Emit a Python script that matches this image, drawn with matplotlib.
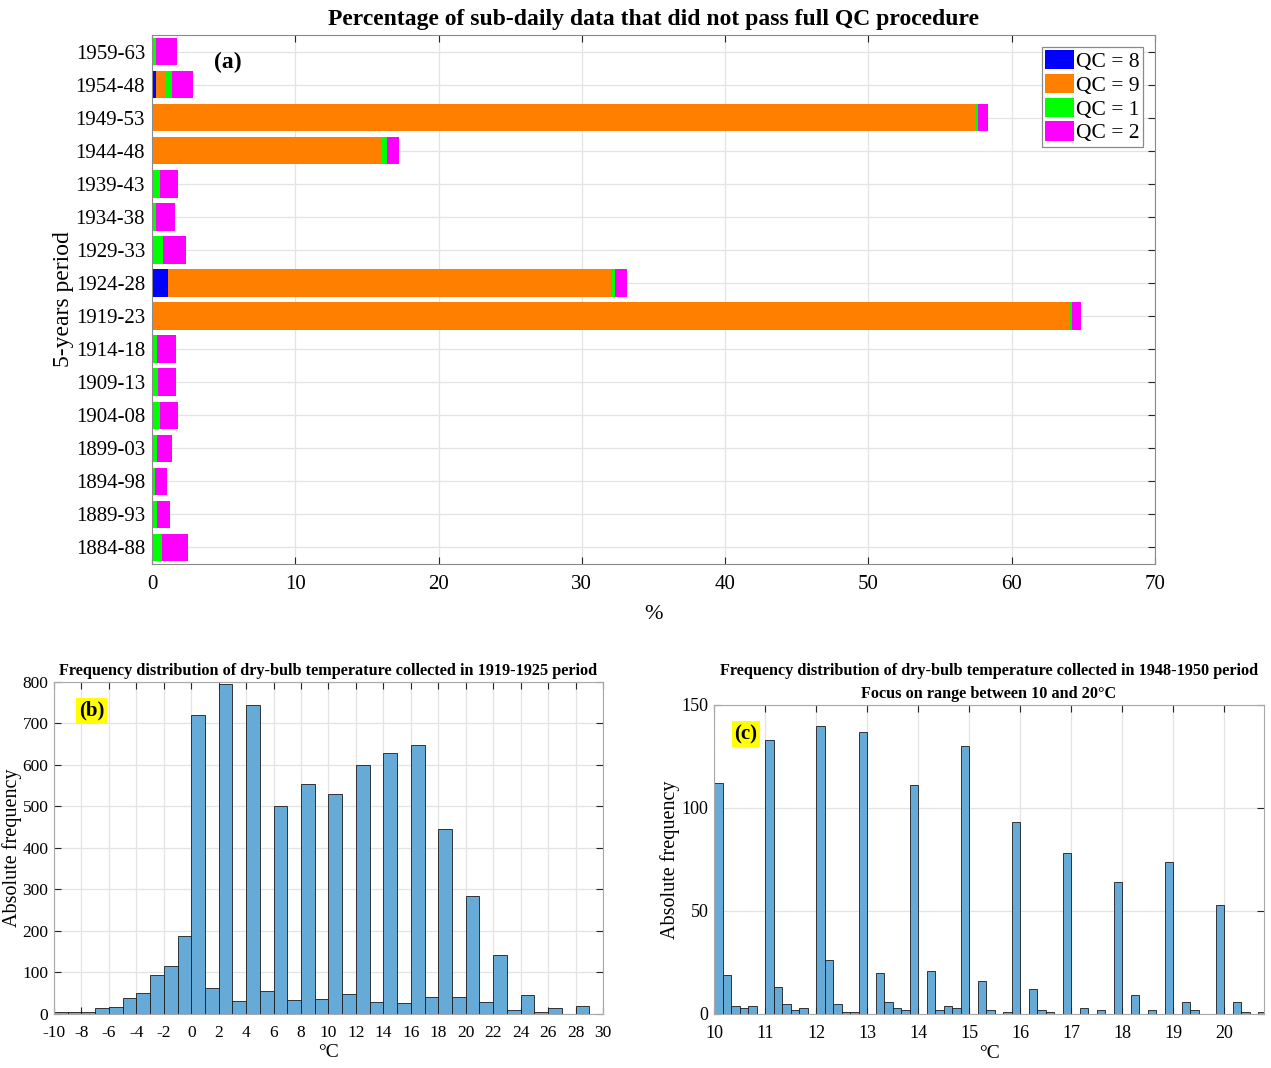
import numpy as np
import matplotlib
matplotlib.use("Agg")
import matplotlib.pyplot as plt
from matplotlib.patches import Patch

plt.rcParams['font.family'] = ['Liberation Serif', 'DejaVu Serif']
plt.rcParams['axes.unicode_minus'] = False

# ---- panel (a): stacked % of data failing QC, top -> bottom
periods = ['1959-63', '1954-48', '1949-53', '1944-48', '1939-43', '1934-38',
           '1929-33', '1924-28', '1919-23', '1914-18', '1909-13', '1904-08',
           '1899-03', '1894-98', '1889-93', '1884-88']
qc8 = [0.05, 0.28, 0.0, 0.0, 0.0, 0.03, 0.0, 1.13, 0.05, 0.0, 0.0, 0.0, 0.07, 0.0, 0.0, 0.0]
qc9 = [0.10, 0.65, 57.45, 16.05, 0.0, 0.0, 0.0, 30.9, 63.95, 0.0, 0.0, 0.0, 0.0, 0.08, 0.0, 0.10]
qc1 = [0.15, 0.46, 0.22, 0.35, 0.55, 0.22, 0.79, 0.28, 0.20, 0.35, 0.42, 0.55, 0.30, 0.16, 0.37, 0.60]
qc2 = [1.45, 1.44, 0.67, 0.84, 1.27, 1.37, 1.60, 0.84, 0.65, 1.32, 1.23, 1.25, 1.04, 0.81, 0.90, 1.83]
qc_labels = ['QC = 8', 'QC = 9', 'QC = 1', 'QC = 2']
qc_colors = ['#0000ff', '#ff8000', '#00ff00', '#ff00ff']

# ---- panel (b): histogram 1919-1925, 1 degree bins from -10
b_start = -10
b_counts = [5, 5, 5, 14, 17, 38, 50, 94, 116, 188,
            720, 63, 796, 32, 745, 55, 502, 34, 553, 36,
            530, 49, 599, 28, 629, 26, 647, 42, 445, 42,
            284, 30, 142, 10, 46, 5, 14, 0, 19, 0]

# ---- panel (c): histogram 1948-1950, 1/6 degree bins from 10
c_start = 10
c_width = 1 / 6
c_counts = [112, 19, 4, 3, 4, 0,
            133, 13, 5, 2, 3, 0,
            140, 26, 5, 1, 1, 137,
            0, 20, 6, 3, 2, 111,
            0, 21, 2, 4, 3, 130,
            0, 16, 2, 0, 1, 93,
            0, 12, 2, 1, 0, 78,
            0, 3, 0, 2, 0, 64,
            0, 9, 0, 2, 0, 74,
            0, 6, 2, 0, 0, 53,
            0, 6, 1, 0, 1]

HIST_FACE = '#66aad7'
GRID = '#e3e3e3'


def style_axes(ax, spine_col, labsize, xpad, ypad):
    for s in ax.spines.values():
        s.set_color(spine_col)
        s.set_linewidth(0.8)
    ax.tick_params(direction='in', top=True, right=True, length=5,
                   color='#262626', labelsize=labsize, width=0.8)
    ax.tick_params(axis='x', pad=xpad)
    ax.tick_params(axis='y', pad=ypad)
    ax.grid(True, color=GRID, linewidth=0.9)
    ax.set_axisbelow(True)


fig = plt.figure(figsize=(12.71, 10.68), dpi=100)

# ---------------- (a)
ax = fig.add_axes([0.1196, 0.4719, 0.7891, 0.4953])
y = np.arange(len(periods))
left = np.zeros(len(periods))
for vals, lab, col in zip([qc8, qc9, qc1, qc2], qc_labels, qc_colors):
    ax.barh(y, vals, left=left, height=0.83, color=col, edgecolor='none', label=lab)
    left = left + np.array(vals)
ax.set_yticks(y)
ax.set_yticklabels(periods)
ax.set_ylim(len(periods) - 0.5, -0.5)
ax.set_xlim(0, 70)
ax.set_xticks(np.arange(0, 71, 10))
style_axes(ax, '#8a8a8a', 15, 8, 5)
ax.set_xlabel('%', fontsize=16, labelpad=8)
ax.set_ylabel('5-years period', fontsize=17, labelpad=1)
ax.set_title('Percentage of sub-daily data that did not pass full QC procedure',
             fontsize=17, fontweight='bold', pad=7)
ax.text(0.076, 0.949, '(a)', transform=ax.transAxes, fontsize=17,
        fontweight='bold', ha='center', va='center')
handles = [Patch(facecolor=c, edgecolor='none') for c in qc_colors]
leg = ax.legend(handles, qc_labels, loc='upper right', fontsize=15.5,
                handlelength=1.35, handleheight=1.0, handletextpad=0.1,
                labelspacing=0.08, borderpad=0.15, borderaxespad=0.55,
                fancybox=False, framealpha=1, edgecolor='#8a8a8a')
leg.get_frame().set_linewidth(0.9)

# ---------------- (b)
ax = fig.add_axes([0.0425, 0.0506, 0.4319, 0.3109])
b_edges = b_start + np.arange(len(b_counts) + 1)
ax.bar(b_edges[:-1], b_counts, width=np.diff(b_edges), align='edge',
       color=HIST_FACE, edgecolor='#1a1a1a', linewidth=0.6)
ax.set_xlim(-10, 30)
ax.set_ylim(0, 800)
ax.set_xticks(np.arange(-10, 31, 2))
ax.set_yticks(np.arange(0, 801, 100))
style_axes(ax, '#a8a8a8', 12.5, 8, 4)
ax.set_xlabel('°C', fontsize=14, labelpad=2)
ax.set_ylabel('Absolute frequency', fontsize=14.5, labelpad=0.5)
ax.set_title('Frequency distribution of dry-bulb temperature collected in 1919-1925 period',
             fontsize=11.7, fontweight='bold', pad=5)
ax.text(0.069, 0.913, '(b)', transform=ax.transAxes, fontsize=15,
        fontweight='bold', ha='center', va='center',
        bbox=dict(facecolor='#ffff00', edgecolor='none', pad=2))

# ---------------- (c)
ax = fig.add_axes([0.5618, 0.0506, 0.4327, 0.2893])
c_edges = c_start + np.arange(len(c_counts) + 1) * c_width
ax.bar(c_edges[:-1], c_counts, width=np.diff(c_edges), align='edge',
       color=HIST_FACE, edgecolor='#1a1a1a', linewidth=0.6)
ax.set_xlim(10, 20.78)
ax.set_ylim(0, 150)
ax.set_xticks(np.arange(10, 21, 1))
ax.set_yticks([0, 50, 100, 150])
style_axes(ax, '#a8a8a8', 13, 8, 4)
ax.set_xlabel('°C', fontsize=14, labelpad=2)
ax.set_ylabel('Absolute frequency', fontsize=14.5, labelpad=1)
ax.set_title('Frequency distribution of dry-bulb temperature collected in 1948-1950 period\n'
             'Focus on range between 10 and 20°C',
             fontsize=11.7, fontweight='bold', pad=5, linespacing=1.55)
ax.text(0.058, 0.906, '(c)', transform=ax.transAxes, fontsize=15,
        fontweight='bold', ha='center', va='center',
        bbox=dict(facecolor='#ffff00', edgecolor='none', pad=2))

fig.savefig('out.png', dpi=100)
